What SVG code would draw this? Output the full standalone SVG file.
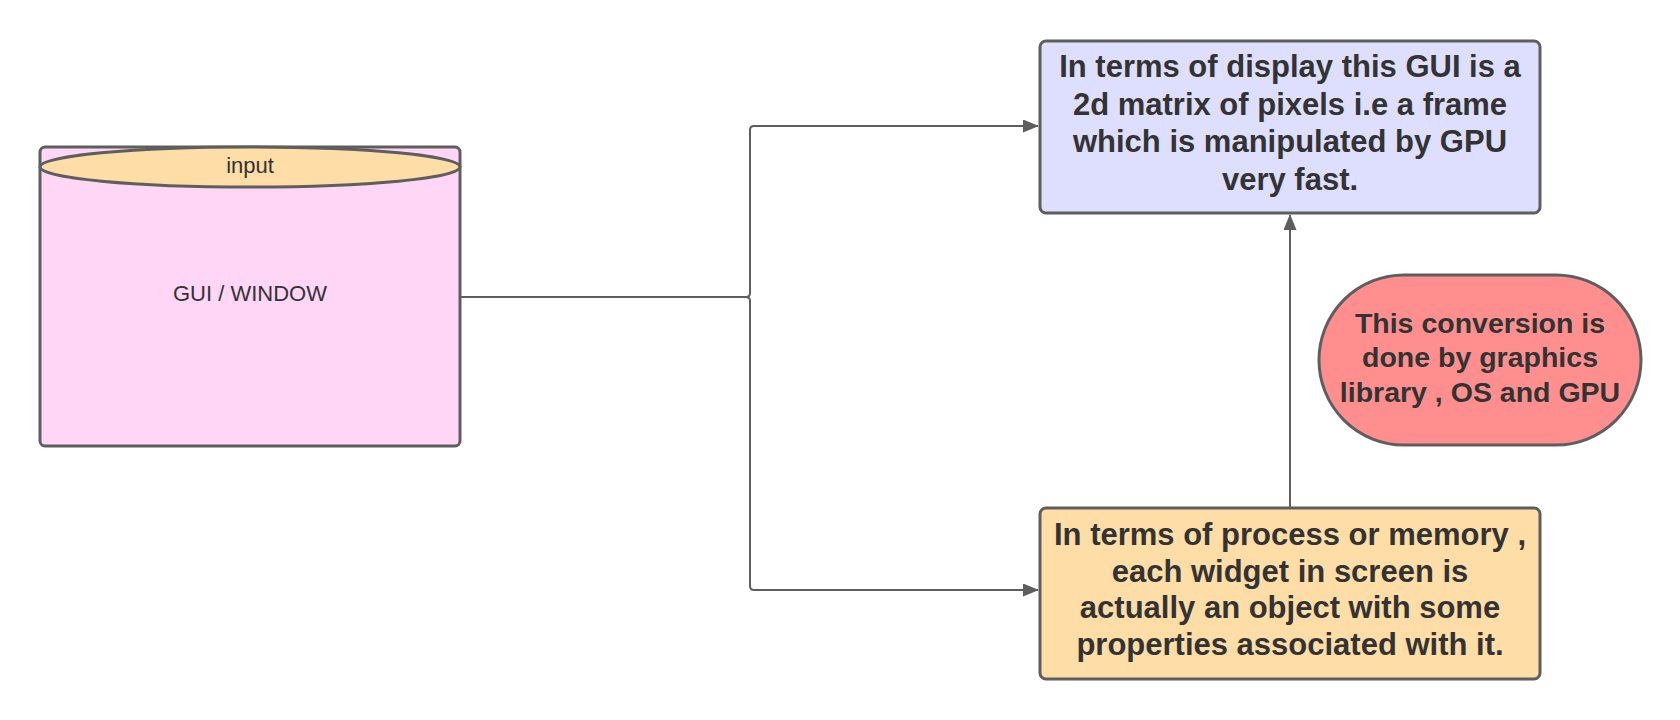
<svg xmlns="http://www.w3.org/2000/svg" width="1680" height="720" viewBox="0 0 1680 720">
<style>
.node{stroke:#5e5e5e;stroke-width:3}
.conn{fill:none;stroke:#5e5e5e;stroke-width:2}
.t{font-family:"Liberation Sans",Arial,sans-serif;fill:#333333;text-anchor:middle}
.b{font-weight:bold;font-size:31px}
.p{font-weight:bold;font-size:28.5px}
.n{font-size:22px}
</style>
<defs>
<marker id="arr" markerUnits="userSpaceOnUse" markerWidth="16" markerHeight="14" refX="15" refY="6.5" orient="auto">
<path d="M0,0 L16,6.5 L0,13 z" fill="#5e5e5e"/>
</marker>
</defs>
<rect width="1680" height="720" fill="#ffffff"/>
<g id="connectors">
<path class="conn" d="M460,297 H746 Q750,297 750,293 V130 Q750,126 754,126 H1038" marker-end="url(#arr)"/>
<path class="conn" d="M460,297 H746 Q750,297 750,301 V586 Q750,590 754,590 H1038" marker-end="url(#arr)"/>
<path class="conn" d="M1290,507 V215" marker-end="url(#arr)"/>
</g>
<g id="gui">
<rect class="node" x="40" y="147" width="420" height="299" rx="5" fill="#ffd6f6"/>
<ellipse class="node" cx="250" cy="167" rx="210" ry="20" fill="#ffdda6"/>
<text class="t n" x="250" y="173">input</text>
<text class="t n" x="250" y="301">GUI / WINDOW</text>
</g>
<g id="display">
<rect class="node" x="1040" y="41" width="500" height="172" rx="6" fill="#dedeff"/>
<text class="t b" x="1290" y="77">In terms of display this GUI is a</text>
<text class="t b" x="1290" y="115">2d matrix of pixels i.e a frame</text>
<text class="t b" x="1290" y="152">which is manipulated by GPU</text>
<text class="t b" x="1290" y="190">very fast.</text>
</g>
<g id="memory">
<rect class="node" x="1040" y="508" width="500" height="171" rx="6" fill="#ffdda6"/>
<text class="t b" x="1290" y="545">In terms of process or memory ,</text>
<text class="t b" x="1290" y="582">each widget in screen is</text>
<text class="t b" x="1290" y="618">actually an object with some</text>
<text class="t b" x="1290" y="655">properties associated with it.</text>
</g>
<g id="conversion">
<rect class="node" x="1319" y="275" width="322" height="170" rx="85" fill="#ff8f8f"/>
<text class="t p" x="1480" y="333">This conversion is</text>
<text class="t p" x="1480" y="367">done by graphics</text>
<text class="t p" x="1480" y="402">library , OS and GPU</text>
</g>
</svg>
